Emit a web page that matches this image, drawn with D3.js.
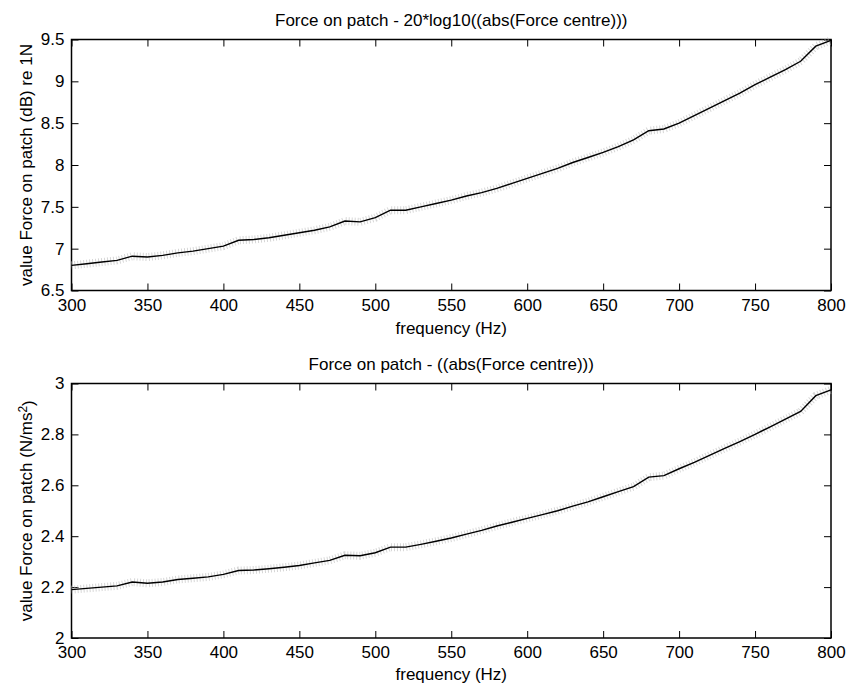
<!DOCTYPE html>
<html>
<head>
<meta charset="utf-8">
<script src="https://cdn.jsdelivr.net/npm/d3@7/dist/d3.min.js"></script>
<style>
  html, body { margin: 0; padding: 0; background: #fff; }
  svg { display: block; font-family: "Liberation Sans", Arial, Helvetica, sans-serif; }
</style>
</head>
<body>
<svg id="chart" width="848" height="684"></svg>
<script>
// ---- data ----
const frequency = [300,310,320,330,340,350,360,370,380,390,400,410,420,430,440,450,460,470,480,490,500,
  510,520,530,540,550,560,570,580,590,600,610,620,630,640,650,660,670,680,690,700,
  710,720,730,740,750,760,770,780,790,800];
const forceDb = [6.80,6.82,6.84,6.86,6.91,6.90,6.92,6.95,6.97,7.00,7.03,7.10,7.11,7.13,7.16,7.19,7.22,7.26,7.33,7.32,7.37,
  7.46,7.46,7.50,7.54,7.58,7.63,7.67,7.72,7.78,7.84,7.90,7.96,8.03,8.09,8.15,8.22,8.30,8.41,8.43,8.50,
  8.59,8.68,8.77,8.86,8.96,9.05,9.14,9.24,9.42,9.49];
const forceAbs = [2.190,2.195,2.200,2.205,2.220,2.215,2.220,2.230,2.235,2.240,2.250,2.265,2.267,2.272,2.278,2.285,2.295,2.305,2.325,2.323,2.335,
  2.357,2.357,2.368,2.380,2.393,2.408,2.423,2.440,2.455,2.470,2.485,2.500,2.518,2.535,2.555,2.575,2.595,2.632,2.638,2.665,
  2.690,2.718,2.745,2.772,2.800,2.830,2.860,2.890,2.952,2.975];
const xTicks = [300,350,400,450,500,550,600,650,700,750,800];
const yTicksTop = [6.5,7,7.5,8,8.5,9,9.5];
const yTicksBottom = [2,2.2,2.4,2.6,2.8,3];
const titles = ["Force on patch - 20*log10((abs(Force centre)))", "Force on patch - ((abs(Force centre)))"];
const xLabel = "frequency (Hz)";

// ---- drawing ----
const svg = d3.select("#chart");
const left = 71.5, right = 831;
const panels = [
  { top: 39.5, bottom: 290.5, domain: [6.5, 9.5], ticks: yTicksTop, values: forceDb, title: titles[0],
    ylabel: ["value Force on patch (dB) re 1N"], xlabOff: 43 },
  { top: 383.5, bottom: 638, domain: [2, 3], ticks: yTicksBottom, values: forceAbs, title: titles[1],
    ylabel: ["value Force on patch (N/ms", "2", ")"], xlabOff: 41.5 }
];
const fmt = d3.format("~g");
const FS = 17;
const TL = 7;

panels.forEach(p => {
  const x = d3.scaleLinear().domain([300, 800]).range([left, right]);
  const y = d3.scaleLinear().domain(p.domain).range([p.bottom, p.top]);
  const g = svg.append("g");

  // bottom axis (ticks inward)
  const xb = g.append("g").attr("transform", `translate(0,${p.bottom})`)
    .call(d3.axisBottom(x).tickValues(xTicks).tickFormat(fmt).tickSizeInner(-TL).tickSizeOuter(0).tickPadding(8));
  xb.selectAll("text").attr("font-size", FS).attr("fill", "#000").attr("font-family", "Liberation Sans, Arial, sans-serif");
  // top axis
  g.append("g").attr("transform", `translate(0,${p.top})`)
    .call(d3.axisTop(x).tickValues(xTicks).tickFormat("").tickSizeInner(-TL).tickSizeOuter(0));
  // left axis
  const yl = g.append("g").attr("transform", `translate(${left},0)`)
    .call(d3.axisLeft(y).tickValues(p.ticks).tickFormat(fmt).tickSizeInner(-TL).tickSizeOuter(0).tickPadding(7));
  yl.selectAll("text").attr("font-size", FS).attr("fill", "#000").attr("font-family", "Liberation Sans, Arial, sans-serif");
  // right axis
  g.append("g").attr("transform", `translate(${right},0)`)
    .call(d3.axisRight(y).tickValues(p.ticks).tickFormat("").tickSizeInner(-TL).tickSizeOuter(0));

  g.selectAll(".domain").remove();
  g.selectAll(".tick line").attr("stroke", "#000").attr("stroke-width", 1);

  // box
  g.append("rect").attr("x", left).attr("y", p.top).attr("width", right - left).attr("height", p.bottom - p.top)
    .attr("fill", "none").attr("stroke", "#000").attr("stroke-width", 1.5);

  const line = d3.line().x((d, i) => x(frequency[i])).y(d => y(d));
  // speckled halo of the scanned measurement
  g.append("path").datum(p.values).attr("d", line).attr("fill", "none")
    .attr("stroke", "#bbb").attr("stroke-width", 8).attr("stroke-dasharray", "1,2").attr("opacity", 0.6);
  g.append("path").datum(p.values).attr("d", line).attr("fill", "none")
    .attr("stroke", "#000").attr("stroke-width", 1.4);

  // title
  g.append("text").attr("x", (left + right) / 2).attr("y", p.top - 13.5).attr("text-anchor", "middle")
    .attr("font-size", FS).text(p.title);
  // x label
  g.append("text").attr("x", (left + right) / 2).attr("y", p.bottom + p.xlabOff).attr("text-anchor", "middle")
    .attr("font-size", FS).text(xLabel);
  // y label
  const t = g.append("text").attr("transform", `translate(26,${(p.top + p.bottom) / 2}) rotate(-90)`)
    .attr("text-anchor", "middle").attr("dy", "0.35em").attr("font-size", FS);
  t.append("tspan").text(p.ylabel[0]);
  if (p.ylabel.length > 1) {
    t.append("tspan").attr("dy", "-0.45em").attr("font-size", FS * 0.7).text(p.ylabel[1]);
    t.append("tspan").attr("dy", "0.45em").text(p.ylabel[2]);
  }
});
</script>
</body>
</html>
